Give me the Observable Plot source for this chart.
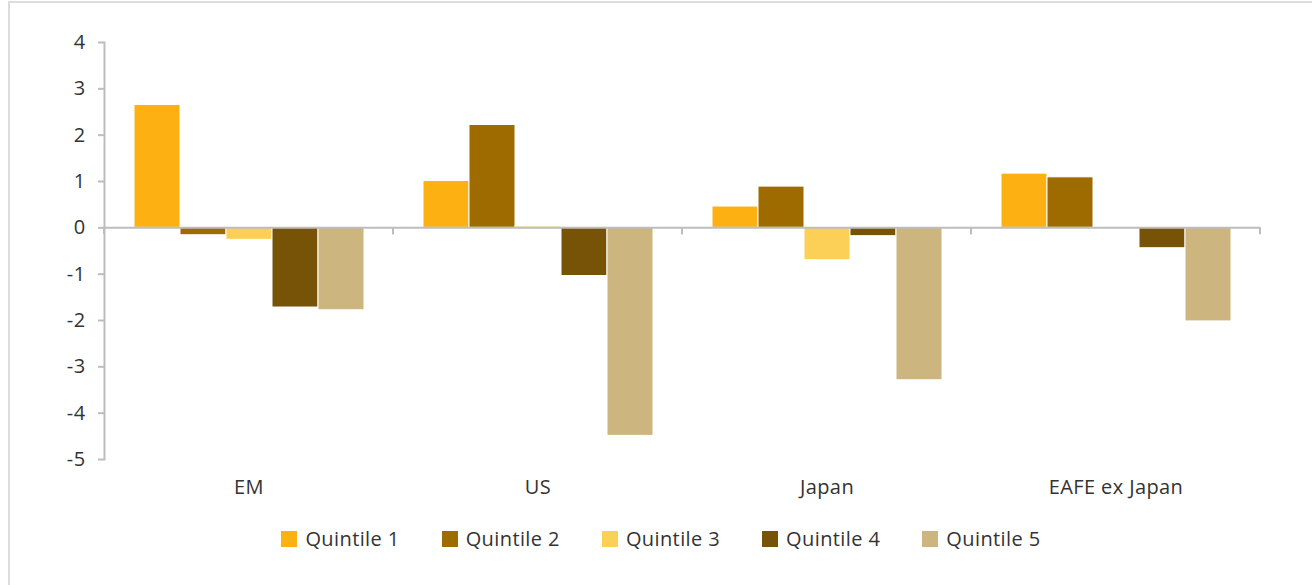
<!DOCTYPE html>
<html>
<head>
<meta charset="utf-8">
<script src="https://cdn.jsdelivr.net/npm/d3@7"></script>
<script src="https://cdn.jsdelivr.net/npm/@observablehq/plot@0.6"></script>
<style>
  html, body { margin: 0; padding: 0; background: #fff; }
  body { width: 1312px; height: 585px; overflow: hidden; position: relative; font-family: "Open Sans", sans-serif; }
  #frame { position: absolute; left: 8px; top: 1px; right: 0; bottom: 0; border-left: 2px solid #dcdcdc; border-top: 2px solid #dcdcdc; }
  #chart { position: absolute; left: 0; top: 0; }
  #chart text { letter-spacing: 0.4px; }
  #legend { position: absolute; left: 0; top: 525px; width: 1312px; display: flex; justify-content: center; padding-left: 10px; box-sizing: border-box; }
  .item { display: flex; align-items: center; margin: 0 21px 0 21px; font-size: 20px; letter-spacing: 0.4px; color: #333; }
  .sw { width: 16px; height: 16px; margin-right: 8px; }
</style>
</head>
<body>
<div id="frame"></div>
<div id="chart"></div>
<div id="legend"></div>
<script>
const categories = ["EM", "US", "Japan", "EAFE ex Japan"];
const quintiles = ["Quintile 1", "Quintile 2", "Quintile 3", "Quintile 4", "Quintile 5"];
const colors = ["#FCB012", "#9D6B00", "#FCCF57", "#775307", "#CCB57E"];
const q1 = [2.65, 1.01, 0.46, 1.17];
const q2 = [-0.16, 2.22, 0.89, 1.09];
const q3 = [-0.26, 0.03, -0.70, null];
const q4 = [-1.72, -1.04, -0.18, -0.44];
const q5 = [-1.78, -4.49, -3.29, -2.02];
const yTicks = [-5, -4, -3, -2, -1, 0, 1, 2, 3, 4];

const series = [q1, q2, q3, q4, q5];
const rows = [];
categories.forEach((c, i) => {
  quintiles.forEach((q, j) => {
    const v = series[j][i];
    if (v != null) rows.push({category: c, quintile: q, value: v});
  });
});

const axisGray = "#bdbdbd";
const textColor = "#333";

const boundaryTicks = (index, scales, values, dims) => {
  const [xa, xb] = scales.x.range();
  const y0 = scales.y(0);
  const g = d3.create("svg:g");
  for (const xp of [xa, xb]) {
    g.append("line")
      .attr("x1", xp).attr("x2", xp)
      .attr("y1", y0).attr("y2", y0 + 7)
      .attr("stroke", axisGray).attr("stroke-width", 2);
  }
  return g.node();
};

const chart = Plot.plot({
  width: 1312,
  height: 510,
  marginTop: 42,
  marginBottom: 51,
  marginLeft: 103,
  marginRight: 52,
  style: {fontFamily: "'Open Sans', sans-serif", fontSize: "20px", color: textColor, background: "transparent"},
  fx: {domain: categories, padding: 0, label: null, axis: null},
  x: {domain: quintiles, paddingInner: 0, paddingOuter: 0.6, axis: null},
  y: {domain: [-5, 4], label: null, axis: null},
  color: {domain: quintiles, range: colors},
  marks: [
    Plot.barY(rows, {fx: "category", x: "quintile", y: "value", fill: "quintile", stroke: "#fff", strokeWidth: 1}),
    Plot.ruleY([0], {stroke: axisGray, strokeWidth: 2}),
    boundaryTicks,
    Plot.frame({anchor: "left", facetAnchor: "left", stroke: axisGray, strokeWidth: 2}),
    Plot.axisY({ticks: yTicks, tickSize: 6, tickPadding: 13, stroke: axisGray, strokeWidth: 2, tickFormat: d => String(d), fill: textColor, fontSize: 20, label: null}),
    Plot.axisFx({tickSize: 0, tickPadding: 20, fill: textColor, fontSize: 20, label: null, anchor: "bottom"})
  ]
});
document.getElementById("chart").appendChild(chart);

const legend = document.getElementById("legend");
quintiles.forEach((q, i) => {
  const item = document.createElement("div");
  item.className = "item";
  const sw = document.createElement("span");
  sw.className = "sw";
  sw.style.background = colors[i];
  const t = document.createElement("span");
  t.textContent = q;
  item.appendChild(sw);
  item.appendChild(t);
  legend.appendChild(item);
});
</script>
</body>
</html>
